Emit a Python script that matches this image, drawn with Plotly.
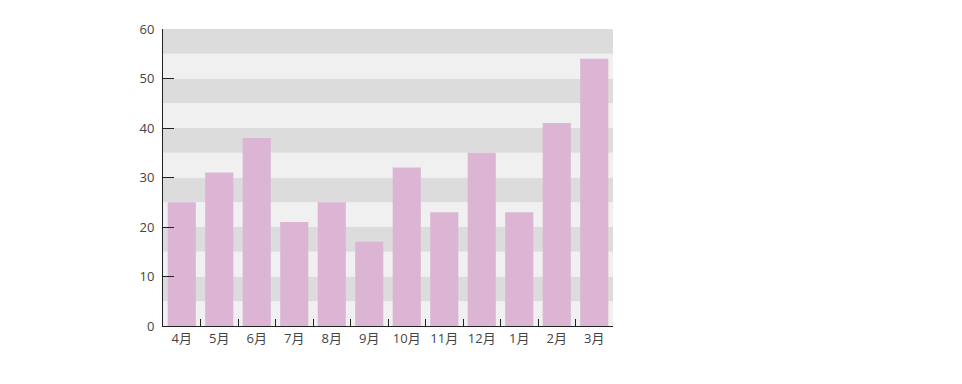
import plotly.graph_objects as go

months = ["4月", "5月", "6月", "7月", "8月", "9月", "10月", "11月", "12月", "1月", "2月", "3月"]
values = [25, 31, 38, 21, 25, 17, 32, 23, 35, 23, 41, 54]
y_ticks = [0, 10, 20, 30, 40, 50, 60]

fig = go.Figure()
fig.add_trace(go.Bar(x=months, y=values, marker=dict(color="#dcb5d5", line=dict(width=0)),
                     hoverinfo="x+y"))

shapes = []
for lo in range(0, 60, 5):
    shapes.append(dict(type="rect", xref="paper", yref="y", x0=0, x1=1, y0=lo, y1=lo + 5,
                       fillcolor="#dcdcdc" if (lo // 5) % 2 == 1 else "#f0f0f0",
                       line=dict(width=0), layer="below"))

fig.update_layout(
    width=962, height=384,
    margin=dict(l=155, r=357, t=19, b=66),
    paper_bgcolor="white", plot_bgcolor="white",
    bargap=0.25, showlegend=False, shapes=shapes,
    font=dict(family="Open Sans, Noto Sans CJK JP, sans-serif", size=13, color="#444444"),
    xaxis=dict(showline=True, linecolor="#222222", linewidth=1, ticks="inside", ticklen=7,
               tickcolor="#222222", tickson="boundaries", showgrid=False, zeroline=False,
               tickfont=dict(size=13, color="#444444")),
    yaxis=dict(range=[0, 60], tickvals=y_ticks, showline=True, linecolor="#222222", linewidth=1,
               ticks="inside", ticklen=11, tickcolor="#222222", showgrid=False, zeroline=False,
               ticklabelstandoff=5, tickfont=dict(size=13, color="#444444")),
)

fig.write_html("out.html")
